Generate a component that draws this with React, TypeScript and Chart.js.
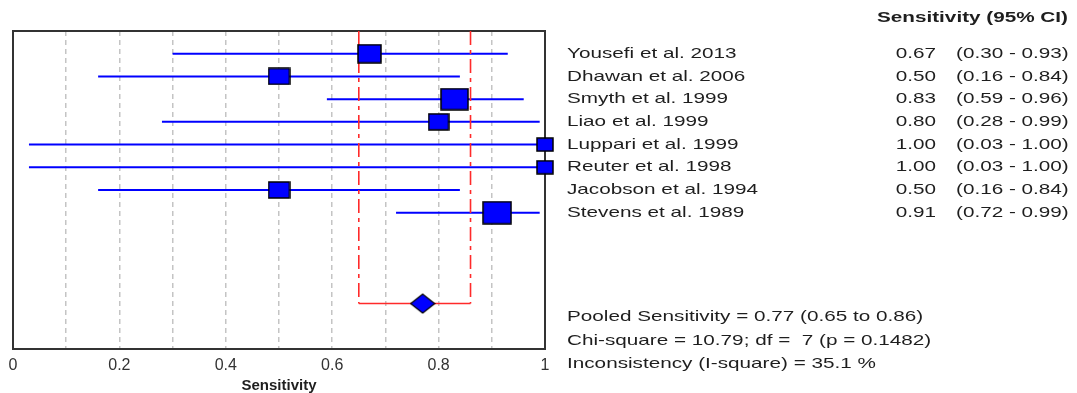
import React, { useEffect, useRef } from 'react';
import { Chart, registerables } from 'chart.js';

Chart.register(...registerables);

// ---- data ----
const studies = [
  'Yousefi et al. 2013',
  'Dhawan et al. 2006',
  'Smyth et al. 1999',
  'Liao et al. 1999',
  'Luppari et al. 1999',
  'Reuter et al. 1998',
  'Jacobson et al. 1994',
  'Stevens et al. 1989',
];
const sensitivity = [0.67, 0.5, 0.83, 0.8, 1.0, 1.0, 0.5, 0.91];
const ciLow = [0.3, 0.16, 0.59, 0.28, 0.03, 0.03, 0.16, 0.72];
const ciHigh = [0.93, 0.84, 0.96, 0.99, 1.0, 1.0, 0.84, 0.99];
const diseased = [9, 6, 18, 5, 1, 1, 6, 22];
const pooledValue = 0.77;
const pooledLow = 0.65;
const pooledHigh = 0.86;
const statsLines = [
  'Pooled Sensitivity = 0.77 (0.65 to 0.86)',
  'Chi-square = 10.79; df =  7 (p = 0.1482)',
  'Inconsistency (I-square) = 35.1 %',
];
const xTickLabels = [0, 0.2, 0.4, 0.6, 0.8, 1];
const headerText = 'Sensitivity (95% CI)';
const axisTitle = 'Sensitivity';

const FONT = "'Liberation Sans', Arial, sans-serif";
const BLUE = '#0000ff';
const RED = '#ff2a2a';
const SX = 1.38;

const pooledRow = studies.length + 4;
const yMax = studies.length + 6;

function boxCanvas(w: number, h: number) {
  const c = document.createElement('canvas');
  c.width = Math.round(w) + 2;
  c.height = Math.round(h) + 2;
  const g = c.getContext('2d')!;
  g.fillStyle = BLUE;
  g.strokeStyle = '#000';
  g.lineWidth = 1.5;
  g.fillRect(1, 1, c.width - 2, c.height - 2);
  g.strokeRect(1, 1, c.width - 2, c.height - 2);
  return c;
}

function diamondCanvas(w: number, h: number) {
  const c = document.createElement('canvas');
  c.width = w + 2;
  c.height = h + 2;
  const g = c.getContext('2d')!;
  g.fillStyle = BLUE;
  g.strokeStyle = '#000';
  g.lineWidth = 1.2;
  g.beginPath();
  g.moveTo(1, c.height / 2);
  g.lineTo(c.width / 2, 1);
  g.lineTo(c.width - 1, c.height / 2);
  g.lineTo(c.width / 2, c.height - 1);
  g.closePath();
  g.fill();
  g.stroke();
  return c;
}

const framePlugin = {
  id: 'frame',
  beforeDatasetsDraw(chart: any) {
    const { ctx, chartArea: a } = chart;
    ctx.save();
    ctx.strokeStyle = '#333';
    ctx.lineWidth = 2;
    ctx.strokeRect(a.left, a.top, a.right - a.left, a.bottom - a.top);
    ctx.restore();
  },
};

function sText(ctx: CanvasRenderingContext2D, text: string, x: number, y: number, align: CanvasTextAlign) {
  ctx.save();
  ctx.scale(SX, 1);
  ctx.textAlign = align;
  ctx.fillText(text, x / SX, y);
  ctx.restore();
}

const textPlugin = {
  id: 'sideText',
  afterDraw(chart: any) {
    const { ctx, chartArea: a } = chart;
    const y = chart.scales.y;
    const r = a.right;
    ctx.save();
    ctx.fillStyle = '#1e1e1e';
    ctx.textBaseline = 'middle';
    ctx.font = `bold 15px ${FONT}`;
    sText(ctx, headerText, r + 332, a.top - 13, 'left');
    ctx.font = `15px ${FONT}`;
    studies.forEach((s, i) => {
      const py = y.getPixelForValue(i + 1);
      sText(ctx, s, r + 22, py, 'left');
      sText(ctx, sensitivity[i].toFixed(2), r + 391, py, 'right');
      sText(ctx, `(${ciLow[i].toFixed(2)} - ${ciHigh[i].toFixed(2)})`, r + 411, py, 'left');
    });
    statsLines.forEach((t, k) => {
      const py = y.getPixelForValue(pooledRow + 0.6 + k * 1.03);
      sText(ctx, t, r + 22, py, 'left');
    });
    ctx.restore();
  },
};

export default function App() {
  const ref = useRef<HTMLCanvasElement | null>(null);
  useEffect(() => {
    if (!ref.current) return;
    const boxStyles = diseased.map((n) => {
      const h = 10 + 2.5 * Math.sqrt(n);
      return boxCanvas(h * 1.3, h);
    });
    const ciSets = studies.map((s, i) => ({
      type: 'scatter' as const,
      label: s,
      data: [
        { x: ciLow[i], y: i + 1 },
        { x: ciHigh[i], y: i + 1 },
      ],
      showLine: true,
      borderColor: BLUE,
      borderWidth: 2,
      pointRadius: 0,
      clip: false as any,
      order: 3,
    }));
    const redVertical = (v: number, label: string) => ({
      label,
      data: [
        { x: v, y: 0 },
        { x: v, y: pooledRow },
      ],
      showLine: true,
      borderColor: RED,
      borderWidth: 1.6,
      borderDash: [14, 5, 4, 5],
      pointRadius: 0,
      order: 2,
    });
    const chart = new Chart(ref.current, {
      type: 'scatter',
      data: {
        datasets: [
          ...ciSets,
          redVertical(pooledLow, 'pooled low'),
          redVertical(pooledHigh, 'pooled high'),
          {
            label: 'pooled CI',
            data: [
              { x: pooledLow, y: pooledRow },
              { x: pooledHigh, y: pooledRow },
            ],
            showLine: true,
            borderColor: RED,
            borderWidth: 1.6,
            pointRadius: 0,
            order: 2,
          },
          {
            label: 'studies',
            data: sensitivity.map((v, i) => ({ x: v, y: i + 1 })),
            pointStyle: boxStyles as any,
            pointRadius: 10,
            clip: false as any,
            order: 1,
          },
          {
            label: 'pooled',
            data: [{ x: pooledValue, y: pooledRow }],
            pointStyle: diamondCanvas(24, 19) as any,
            pointRadius: 10,
            clip: false as any,
            order: 0,
          },
        ],
      },
      options: {
        animation: false,
        responsive: true,
        maintainAspectRatio: false,
        events: [],
        layout: { padding: { left: 13, top: 31, right: 532, bottom: 0 } },
        plugins: { legend: { display: false }, tooltip: { enabled: false } },
        scales: {
          x: {
            type: 'linear',
            min: 0,
            max: 1,
            afterFit: (s: any) => {
              s.height = 44;
            },
            ticks: {
              stepSize: 0.1,
              autoSkip: false,
              maxRotation: 0,
              padding: 7,
              color: '#333',
              font: { family: FONT, size: 16 },
              callback: (v: any) => {
                const val = Math.round(Number(v) * 10) / 10;
                return xTickLabels.some((t) => Math.abs(t - val) < 1e-6) ? String(val) : '';
              },
            },
            grid: {
              drawTicks: false,
              lineWidth: 1.5,
              color: (c: any) => {
                const v = c.tick ? c.tick.value : 0;
                return v <= 0.001 || v >= 0.999 ? 'rgba(0,0,0,0)' : '#c4c4c4';
              },
            },
            border: { display: false, dash: [5, 4] },
            title: {
              display: true,
              text: axisTitle,
              color: '#1e1e1e',
              font: { family: FONT, size: 15, weight: 'bold' },
              padding: { top: 0, bottom: -2 },
            },
          },
          y: {
            type: 'linear',
            min: 0,
            max: yMax,
            reverse: true,
            display: false,
          },
        },
      },
      plugins: [framePlugin, textPlugin],
    });
    return () => chart.destroy();
  }, []);
  return (
    <div style={{ position: 'fixed', left: 0, top: 0, width: 1077, height: 393, background: '#fff' }}>
      <canvas ref={ref} />
    </div>
  );
}
